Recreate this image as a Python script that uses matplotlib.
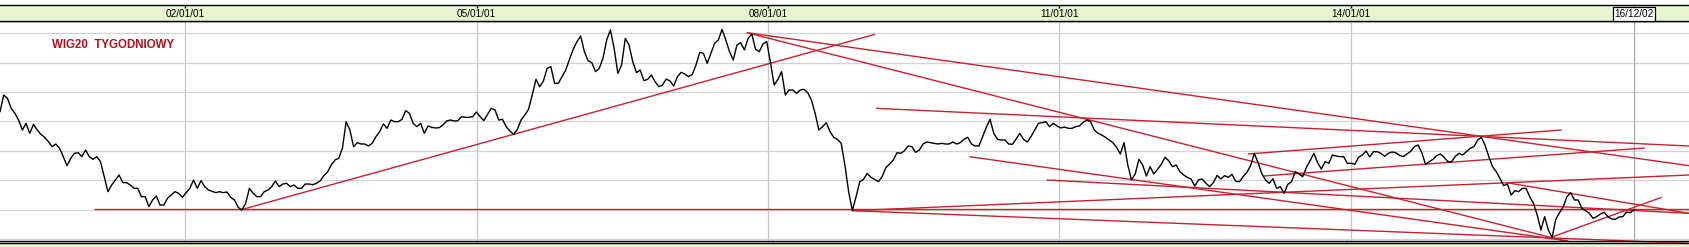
import matplotlib
matplotlib.use("Agg")
import matplotlib.pyplot as plt
import matplotlib.dates as mdates
import pandas as pd

# ---------------- data ----------------
start_date = "2000-02-04"          # first weekly close shown, then every 2 weeks
wig20_values = [
    425, 475, 465, 435, 420, 400, 370, 390, 360, 387, 370, 357, 348, 335, 320, 328, 315, 290, 263, 285,
    300, 302, 290, 310, 290, 282, 290, 275, 230, 185, 205, 220, 235, 212, 212, 205, 195, 195, 170, 170,
    140, 160, 172, 145, 145, 165, 175, 185, 180, 168, 182, 195, 220, 195, 218, 200, 190, 186, 182, 185,
    182, 184, 168, 160, 138, 130, 150, 195, 180, 170, 170, 185, 190, 200, 217, 200, 208, 210, 200, 205,
    195, 195, 208, 208, 206, 210, 217, 233, 244, 265, 280, 285, 315, 395, 370, 320, 332, 328, 328, 322,
    330, 350, 365, 388, 375, 400, 395, 395, 402, 428, 420, 390, 380, 390, 360, 382, 378, 376, 377, 385,
    397, 400, 397, 398, 410, 408, 408, 410, 424, 410, 398, 417, 435, 430, 400, 402, 380, 367, 357, 372,
    400, 415, 432, 475, 522, 500, 517, 555, 560, 510, 510, 530, 550, 582, 612, 635, 652, 605, 578, 572,
    545, 555, 585, 640, 670, 615, 540, 565, 645, 625, 575, 542, 550, 518, 522, 535, 515, 500, 505, 523,
    517, 502, 530, 543, 538, 530, 537, 565, 603, 600, 570, 600, 630, 640, 672, 640, 605, 580, 625, 632,
    610, 645, 658, 612, 605, 628, 635, 572, 505, 522, 545, 475, 490, 490, 480, 490, 492, 482, 460, 420,
    370, 380, 392, 365, 348, 342, 330, 265, 185, 128, 170, 215, 222, 240, 228, 222, 215, 230, 257, 268,
    280, 302, 300, 308, 322, 320, 303, 310, 328, 334, 332, 330, 328, 330, 328, 328, 334, 328, 332, 342,
    348, 328, 322, 322, 350, 378, 402, 360, 342, 340, 340, 328, 327, 343, 360, 342, 334, 350, 370, 390,
    392, 395, 380, 390, 382, 376, 379, 375, 375, 380, 382, 393, 400, 395, 370, 360, 355, 348, 340, 332,
    318, 298, 332, 265, 220, 238, 282, 265, 232, 260, 238, 252, 267, 288, 278, 260, 265, 245, 235, 228,
    223, 202, 220, 223, 210, 200, 212, 234, 223, 233, 228, 237, 216, 215, 230, 243, 263, 300, 272, 239,
    220, 210, 224, 195, 200, 180, 207, 215, 245, 238, 230, 258, 278, 300, 272, 253, 275, 270, 295, 292,
    290, 290, 270, 270, 267, 288, 295, 307, 289, 305, 305, 300, 291, 300, 304, 302, 294, 290, 298, 306,
    320, 325, 302, 267, 275, 282, 293, 298, 288, 275, 275, 291, 300, 295, 305, 315, 320, 340, 348, 324,
    290, 260, 245, 225, 203, 208, 175, 188, 185, 195, 195, 170, 150, 115, 70, 110, 70, 48, 102, 122,
    140, 170, 182, 160, 160, 135, 128, 120, 105, 110, 118, 123, 110, 103, 102, 109, 110, 124, 122, 130,
]

# trend lines drawn on the chart: start date/value -> end date/value
trend_start_dates = ["2001-01-24", "2002-07-26", "2007-10-14", "2007-10-14", "2009-02-11",
                     "2010-01-28", "2010-11-15", "2012-12-11", "2013-02-07", "2015-08-11",
                     "2016-01-25", "2008-11-16", "2008-11-16"]
trend_start_vals = [133, 130, 662, 662, 435, 290, 220, 298, 232, 212, 48, 128, 128]
trend_end_dates = ["2017-06-27", "2009-02-07", "2017-06-27", "2016-03-16", "2017-06-27",
                   "2016-03-30", "2017-06-27", "2016-03-05", "2017-01-12", "2017-06-27",
                   "2017-03-16", "2017-06-27", "2017-06-27"]
trend_end_vals = [133, 657, 263, 37, 322, 37, 120, 370, 316, 120, 168, 235, 30]

tick_dates = ["2002-01-01", "2005-01-01", "2008-01-01", "2011-01-01", "2014-01-01"]
tick_labels = ["02/01/01", "05/01/01", "08/01/01", "11/01/01", "14/01/01"]
cursor_date = "2016-12-02"
cursor_label = "16/12/02"
title_text = "WIG20  TYGODNIOWY"

grid_values = [43, 131.2, 219.4, 307.6, 395.8, 484, 572.2, 660.4]
x_range = ("2000-02-04", "2017-06-27")
y_range = (31.9, 697)

# ---------------- figure ----------------
W, H = 1689, 247
fig = plt.figure(figsize=(W / 100, H / 100), dpi=100)
fig.patch.set_facecolor("white")

GREEN = "#e6f5cf"
RED = "#c8202e"

# bottom green strip
fig.add_artist(plt.Rectangle((0, 0), 1, 4.0 / H, transform=fig.transFigure,
                             facecolor=GREEN, edgecolor="none", zorder=0))

ax = fig.add_axes([0, (H - 242.7) / H, 1, (242.7 - 21) / H])
hdr = fig.add_axes([0, (H - 21) / H, 1, 16 / H], sharex=ax)

dates = pd.date_range(start_date, periods=len(wig20_values), freq="14D")
xlim = (pd.Timestamp(x_range[0]), pd.Timestamp(x_range[1]))

# main panel
ax.set_facecolor("white")
ax.set_xlim(*xlim)
ax.set_ylim(*y_range)
ax.set_yticks(grid_values)
ax.set_xticks(pd.to_datetime(tick_dates))
ax.tick_params(left=False, bottom=False, labelleft=False, labelbottom=False)
ax.grid(True, axis="y", color="#d2d2d2", lw=0.9)
ax.grid(True, axis="x", color="#c6c6c6", lw=0.9)
ax.set_axisbelow(True)
for s in ("left", "right"):
    ax.spines[s].set_visible(False)
ax.spines["top"].set_linewidth(1.0)
ax.spines["bottom"].set_linewidth(1.0)
ax.axhline(37.9, color="black", lw=1.0, zorder=5)
ax.axvline(pd.Timestamp(cursor_date), color="#aaaaaa", lw=0.9, zorder=1)

ax.plot(dates, wig20_values, color="black", lw=1.0, zorder=4)

for d0, v0, d1, v1 in zip(trend_start_dates, trend_start_vals, trend_end_dates, trend_end_vals):
    ax.plot([pd.Timestamp(d0), pd.Timestamp(d1)], [v0, v1], color=RED, lw=1.0,
            zorder=3, solid_capstyle="butt")

ax.text(51.7 / W, 0.892, title_text, transform=ax.transAxes, ha="left", va="center",
        fontsize=8.3, fontweight="bold", color="#b0101e", family="Liberation Sans")

# header strip
hdr.set_facecolor(GREEN)
hdr.set_ylim(0, 1)
hdr.set_yticks([])
for s in ("left", "right"):
    hdr.spines[s].set_visible(False)
hdr.spines["top"].set_linewidth(1.0)
hdr.spines["bottom"].set_linewidth(1.0)
hdr.set_xticks(pd.to_datetime(tick_dates))
hdr.tick_params(axis="x", which="both", bottom=False, top=True, direction="in",
                length=2.4, width=1.0, labelbottom=False, labeltop=False)
hdr.axvline(pd.Timestamp(cursor_date), color="#aaaaaa", lw=0.9, zorder=1)
for d, lab in zip(tick_dates, tick_labels):
    hdr.text(pd.Timestamp(d), 0.44, lab, ha="center", va="center", fontsize=7.2,
             family="Liberation Sans", color="black")
hdr.text(pd.Timestamp(cursor_date), 0.42, cursor_label, ha="center", va="center",
         fontsize=7.2, family="Liberation Sans", color="black", zorder=6,
         bbox=dict(boxstyle="square,pad=0.18", fc="white", ec="black", lw=0.9))

fig.savefig("out.png", dpi=100, facecolor=fig.get_facecolor())
